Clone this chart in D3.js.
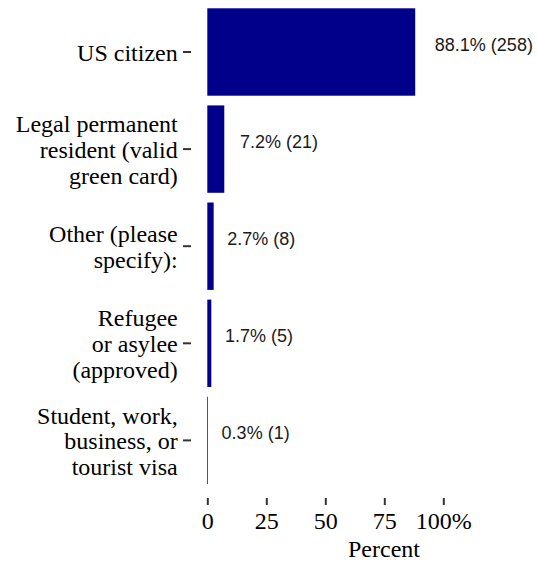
<!DOCTYPE html>
<html>
<head>
<meta charset="utf-8">
<script src="https://cdn.jsdelivr.net/npm/d3@7"></script>
<style>
  body { margin: 0; background: #fff; }
  svg { display: block; }
  .serif { font-family: "Liberation Serif", "Times New Roman", Times, "Nimbus Roman", "Nimbus Roman No9 L", Tinos, "FreeSerif", "Noto Serif", "DejaVu Serif", serif; }
  .sans { font-family: "Liberation Sans", Arial, sans-serif; }
</style>
</head>
<body>
<script>
// data
const categories = [
  "US citizen",
  "Legal permanent resident (valid green card)",
  "Other (please specify):",
  "Refugee or asylee (approved)",
  "Student, work, business, or tourist visa"
];
// how the axis labels wrap
const categoryLines = [
  ["US citizen"],
  ["Legal permanent", "resident (valid", "green card)"],
  ["Other (please", "specify):"],
  ["Refugee", "or asylee", "(approved)"],
  ["Student, work,", "business, or", "tourist visa"]
];
const percents = [88.1, 7.2, 2.7, 1.7, 0.3];
const counts = [258, 21, 8, 5, 1];
const xTicks = [0, 25, 50, 75, 100];

const width = 537, height = 562;

const svg = d3.select("body").append("svg")
  .attr("width", width)
  .attr("height", height);

let rows = categories.map((c, i) => ({
  cat: c, lines: categoryLines[i], pct: percents[i], n: counts[i]
}));

// scales
let xScale = d3.scaleLinear()
  .domain([0, 100])
  .range([207.3, 443.3]);

let yScale = d3.scaleBand()
  .domain(categories)
  .range([3.45, 488.95])
  .paddingInner(0.1)
  .paddingOuter(0.05);

// bars
svg.selectAll(".bar")
  .data(rows)
  .enter()
  .append("rect")
    .attr("class", "bar")
    .attr("x", xScale(0))
    .attr("y", d => yScale(d.cat))
    .attr("width", d => xScale(d.pct) - xScale(0))
    .attr("height", yScale.bandwidth())
    .attr("fill", "#00008B");

// value labels, left edge pushed out by 20% of the label width (like hjust = -0.2)
svg.selectAll(".label")
  .data(rows)
  .enter()
  .append("text")
    .attr("class", "label sans")
    .attr("y", d => yScale(d.cat) + yScale.bandwidth() / 2 - 1)
    .attr("font-size", 18)
    .attr("fill", "#1a1a1a")
    .text(d => d.pct.toFixed(1) + "% (" + d.n + ")")
    .attr("x", function(d) {
      return xScale(d.pct) + 0.2 * this.getComputedTextLength();
    });

// x axis
let xAxis = d3.axisBottom(xScale)
  .tickValues(xTicks)
  .tickSize(7)
  .tickPadding(7.3)
  .tickFormat(d => d === 100 ? "100%" : d);

let gx = svg.append("g")
  .attr("transform", "translate(0, 498)")
  .call(xAxis)
  .attr("font-family", null)
  .attr("class", "serif")
  .attr("font-size", 24);
gx.select(".domain").remove();
gx.selectAll("line").attr("stroke", "#333").attr("stroke-width", 2);
gx.selectAll("text").attr("fill", "#000");

svg.append("text")
  .attr("class", "serif")
  .attr("x", 384)
  .attr("y", 556.7)
  .attr("text-anchor", "middle")
  .attr("font-size", 24)
  .text("Percent");

// y axis: ticks from the band scale, wrapped labels added by hand
let yAxis = d3.axisLeft(yScale)
  .tickSize(8)
  .tickFormat("");

let gy = svg.append("g")
  .attr("transform", "translate(191, 0)")
  .call(yAxis)
  .attr("font-family", null)
  .attr("class", "serif")
  .attr("font-size", 24);
gy.select(".domain").remove();
gy.selectAll("line").attr("stroke", "#333").attr("stroke-width", 2);

const lineGap = 25.9;
gy.selectAll(".tick").each(function(cat) {
  let lines = categoryLines[categories.indexOf(cat)];
  let t = d3.select(this).append("text")
    .attr("text-anchor", "end")
    .attr("fill", "#000");
  lines.forEach((ln, k) => {
    t.append("tspan")
      .attr("x", -13.3)
      .attr("y", 9 + (k - (lines.length - 1) / 2) * lineGap)
      .text(ln);
  });
});
</script>
</body>
</html>
